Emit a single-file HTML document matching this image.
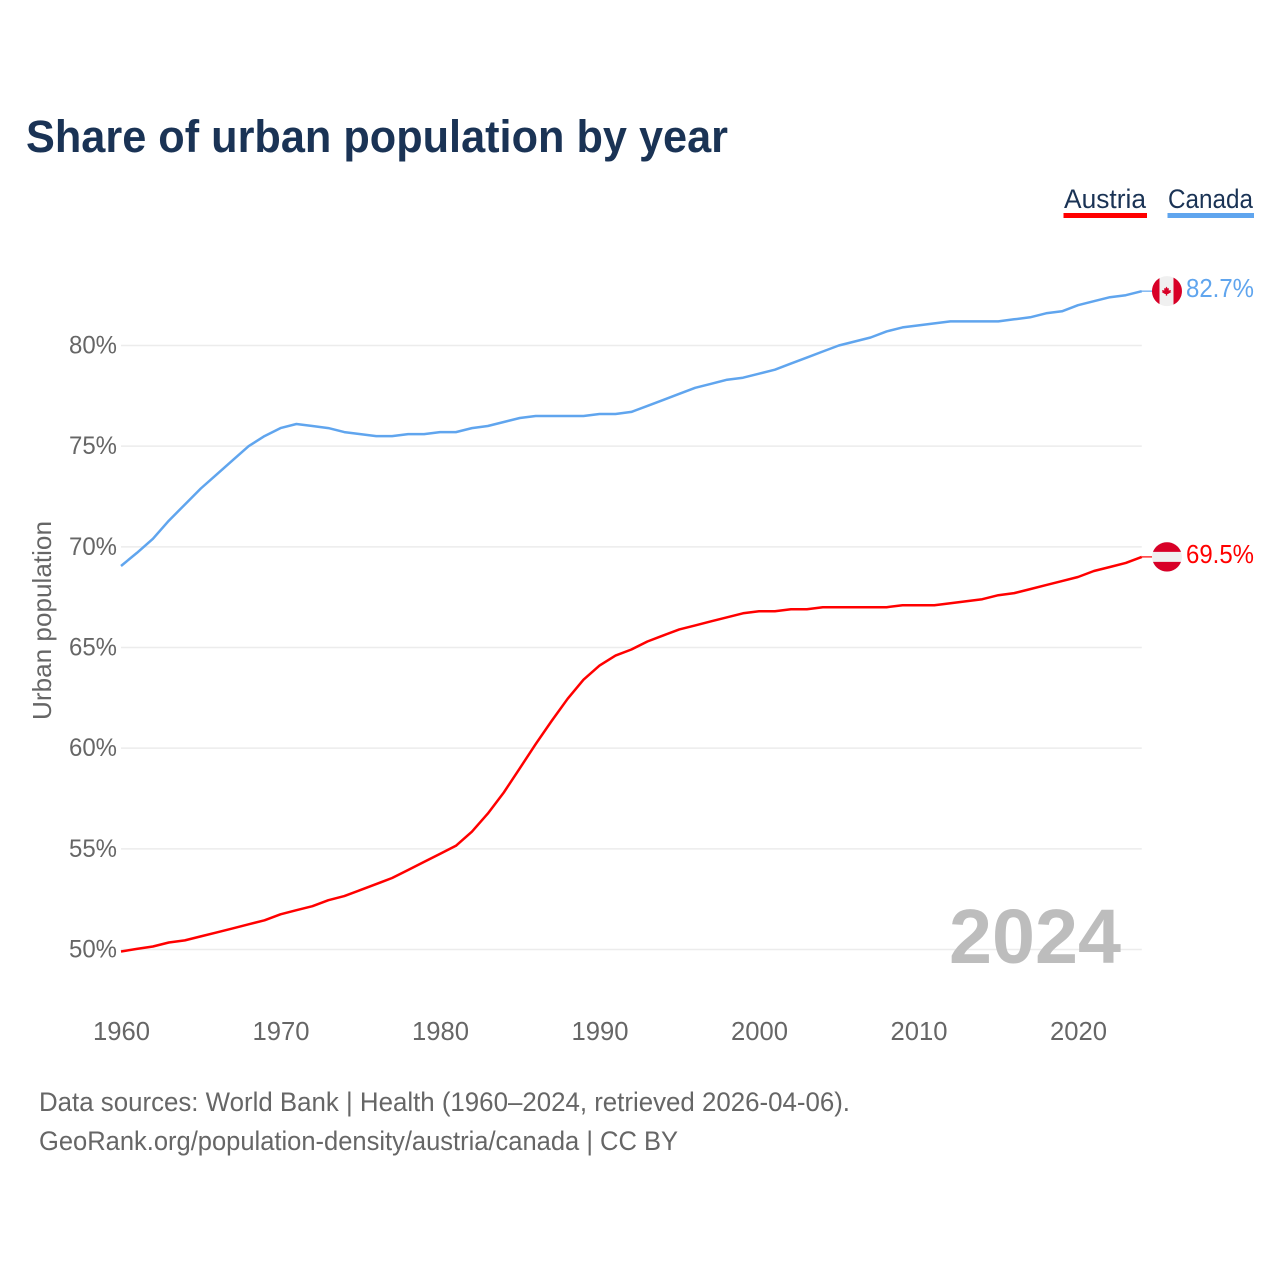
<!DOCTYPE html>
<html lang="en">
<head>
<meta charset="utf-8">
<title>Share of urban population by year</title>
<style>
html,body{margin:0;padding:0;background:#fff;width:1280px;height:1280px;overflow:hidden}
svg{display:block}
text{font-family:"Liberation Sans",sans-serif}
</style>
</head>
<body>
<svg id="chart" xmlns="http://www.w3.org/2000/svg" width="1280" height="1280" viewBox="0 0 1280 1280">
  <rect width="1280" height="1280" fill="#fff"/>
  <text x="26" y="152" font-size="45" font-weight="700" fill="#1a3355" textLength="702" lengthAdjust="spacingAndGlyphs">Share of urban population by year</text>
  <g>
    <g>
      <text x="1064" y="208" font-size="27" fill="#1a3355" textLength="82" lengthAdjust="spacingAndGlyphs">Austria</text>
      <rect x="1063.5" y="213" width="83.5" height="5" fill="#ff0000"/>
    </g>
    <g>
      <text x="1168" y="208" font-size="27" fill="#1a3355" textLength="85" lengthAdjust="spacingAndGlyphs">Canada</text>
      <rect x="1167.5" y="213" width="86.5" height="5" fill="#60a5ee"/>
    </g>
  </g>
  <g id="grid"></g>
  <g id="yTicks"></g>
  <g id="xTicks"></g>
  <text transform="translate(51,720) rotate(-90)" font-size="26" fill="#666" textLength="199" lengthAdjust="spacingAndGlyphs">Urban population</text>
  <text x="949" y="963" font-size="77" font-weight="700" fill="#bdbdbd" textLength="172" lengthAdjust="spacingAndGlyphs">2024</text>
  <g id="series"></g>
  <text x="39" y="1111" font-size="27" fill="#666" textLength="811" lengthAdjust="spacingAndGlyphs">Data sources: World Bank | Health (1960–2024, retrieved 2026-04-06).</text>
  <text x="39" y="1150" font-size="27" fill="#666" textLength="639" lengthAdjust="spacingAndGlyphs">GeoRank.org/population-density/austria/canada | CC BY</text>
</svg>
<script>
const startYear = 1960;
const austriaValues = [49.9,50.03,50.15,50.35,50.45,50.65,50.85,51.05,51.25,51.45,51.75,51.95,52.15,52.45,52.65,52.95,53.25,53.55,53.95,54.35,54.75,55.15,55.85,56.75,57.8,59.0,60.2,61.35,62.45,63.4,64.1,64.6,64.9,65.3,65.6,65.9,66.1,66.3,66.5,66.7,66.8,66.8,66.9,66.9,67.0,67.0,67.0,67.0,67.0,67.1,67.1,67.1,67.2,67.3,67.4,67.6,67.7,67.9,68.1,68.3,68.5,68.8,69.0,69.2,69.5];
const canadaValues = [69.05,69.7,70.4,71.3,72.1,72.9,73.6,74.3,75.0,75.5,75.9,76.1,76.0,75.9,75.7,75.6,75.5,75.5,75.6,75.6,75.7,75.7,75.9,76.0,76.2,76.4,76.5,76.5,76.5,76.5,76.6,76.6,76.7,77.0,77.3,77.6,77.9,78.1,78.3,78.4,78.6,78.8,79.1,79.4,79.7,80.0,80.2,80.4,80.7,80.9,81.0,81.1,81.2,81.2,81.2,81.2,81.3,81.4,81.6,81.7,82.0,82.2,82.4,82.5,82.7];
const yTickValues = [50,55,60,65,70,75,80];
const xTickValues = [1960,1970,1980,1990,2000,2010,2020];

const NS = 'http://www.w3.org/2000/svg';
function xScale(year){ return 121 + (year - 1960) * 15.95; }
function yScale(v){ return 949.5 - (v - 50) * 20.133; }
function make(tag, attrs, parent){
  const el = document.createElementNS(NS, tag);
  for (const k in attrs) el.setAttribute(k, attrs[k]);
  parent.appendChild(el);
  return el;
}

const grid = document.getElementById('grid');
const yTicks = document.getElementById('yTicks');
const xTicks = document.getElementById('xTicks');
const seriesLayer = document.getElementById('series');

yTickValues.forEach(function(v){
  const line = make('line', {x1:xScale(1960), x2:xScale(2024), y1:yScale(v), y2:yScale(v), stroke:'#ececec', 'stroke-width':1.5}, grid);
  
  
  const t = make('text', {x:117, y:yScale(v)+8, 'text-anchor':'end', 'font-size':25, fill:'#666', textLength:48, lengthAdjust:'spacingAndGlyphs'}, yTicks);
  
  
  t.textContent = v + '%';
});

xTickValues.forEach(function(y){
  const t = make('text', {x:xScale(y)-28, y:1040, 'font-size':25.5, fill:'#666', textLength:57, lengthAdjust:'spacingAndGlyphs'}, xTicks);
  
  
  t.textContent = y;
});

function drawSeries(values, color, key){
  const pts = values.map(function(v, i){ return xScale(startYear + i).toFixed(1) + ',' + yScale(v).toFixed(1); }).join(' ');
  const line = make('polyline', {points:pts, fill:'none', stroke:color, 'stroke-width':2.5, 'stroke-linejoin':'round'}, seriesLayer);
  
  

  const last = values[values.length - 1];
  const lastX = xScale(startYear + values.length - 1);
  const lastY = yScale(last);

  const lead = make('line', {x1:lastX, x2:1152, y1:lastY, y2:lastY, stroke:color, 'stroke-width':1.2}, seriesLayer);
  
  

  const flag = make('g', {transform:'translate(1167,' + lastY + ')'}, seriesLayer);
  
  
  make('circle', {r:15, fill:'#f0f0f0'}, flag);
  if (key === 'canada') {
    make('path', {d:'M-7.5,-13 A15,15 0 0 0 -7.5,13 Z', fill:'#d80027'}, flag);
    make('path', {d:'M6.5,-13.5 A15,15 0 0 1 6.5,13.5 Z', fill:'#d80027'}, flag);
    make('path', {d:'M-0.5,-4.5 L0.8,-2.5 L2,-3 L1.6,-0.6 L4,-1.2 L3.4,0.4 L4.2,1 L1,2.8 L0.2,2.8 L0.2,4.5 L-1.2,4.5 L-1.2,2.8 L-2,2.8 L-5.2,1 L-4.4,0.4 L-5,-1.2 L-2.6,-0.6 L-3,-3 L-1.8,-2.5 Z', fill:'#d80027'}, flag);
  } else {
    make('path', {d:'M-14,-5 A15,15 0 0 1 14,-5 Z', fill:'#d80027'}, flag);
    make('path', {d:'M-14,5 A15,15 0 0 0 14,5 Z', fill:'#d80027'}, flag);
  }

  const label = make('text', {x:1186, y:lastY+6, 'font-size':26, fill:color, textLength:68, lengthAdjust:'spacingAndGlyphs'}, seriesLayer);
  
  
  label.textContent = last.toFixed(1) + '%';
}

drawSeries(canadaValues, '#60a5ee', 'canada');
drawSeries(austriaValues, '#ff0000', 'austria');
</script>
</body>
</html>
